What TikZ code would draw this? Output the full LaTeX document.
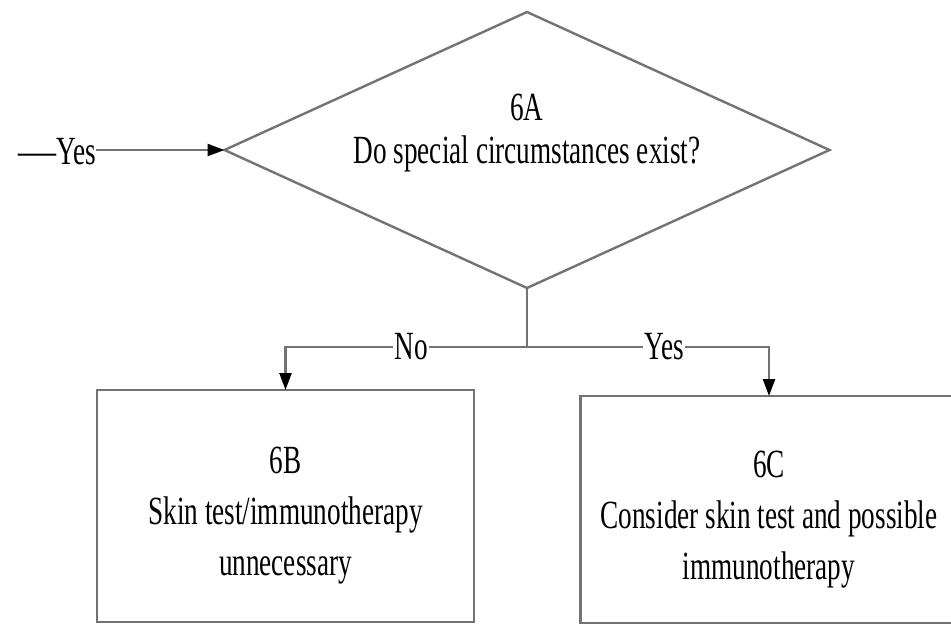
\documentclass[tikz,border=0pt]{standalone}
\usepackage{fontspec}
\setmainfont{Liberation Serif}[FakeStretch=0.68]
\usetikzlibrary{shapes.geometric,arrows.meta}
\begin{document}
\begin{tikzpicture}[x=1pt,y=-1pt,
  every node/.style={inner sep=0pt,outer sep=0pt},
  txt/.style={font=\fontsize{40}{51}\selectfont},
  edge/.style={draw=black!55,line width=2.4pt},
  arr/.style={edge,-{Triangle[length=17pt,width=12pt,color=black]}},
  decision/.style={diamond,edge,shape aspect=2.19,minimum width=605pt,minimum height=276pt},
  stepbox/.style={rectangle,edge,minimum width=377pt},
  lbl/.style={txt,fill=white,inner xsep=1pt}]
  \path[use as bounding box,clip] (0,0) rectangle (951,626);

  % decision 6A
  \node[decision] (A) at (527,150) {};
  \node[align=center,font=\fontsize{40}{43}\selectfont] (Atext) at (527,133) {6A\\Do special circumstances exist?};

  % outcome boxes
  \node[stepbox,minimum height=232pt] (B) at (285.5,506) {};
  \node[txt,align=center] (Btext) at (285.5,516) {6B\\Skin test/immunotherapy\\unnecessary};
  \node[stepbox,minimum height=227pt] (C) at (769,509.5) {};
  \node[txt,align=center] (Ctext) at (769,520) {6C\\Consider skin test and possible\\immunotherapy};

  % incoming branch
  \node[txt,anchor=east] (in) at (96,152) {{\addfontfeature{FakeStretch=0.95}—}Yes};
  \draw[arr] (in.east |- A.west) -- (A.west);

  % split below the decision
  \coordinate (split) at (527,347);
  \draw[edge] (A.south) -- (split);
  \draw[arr] (split) -| node[lbl,pos=0.24] {No} (B.north);
  \draw[arr] (split) -| node[lbl,pos=0.283] {Yes} (C.north);
\end{tikzpicture}
\end{document}
